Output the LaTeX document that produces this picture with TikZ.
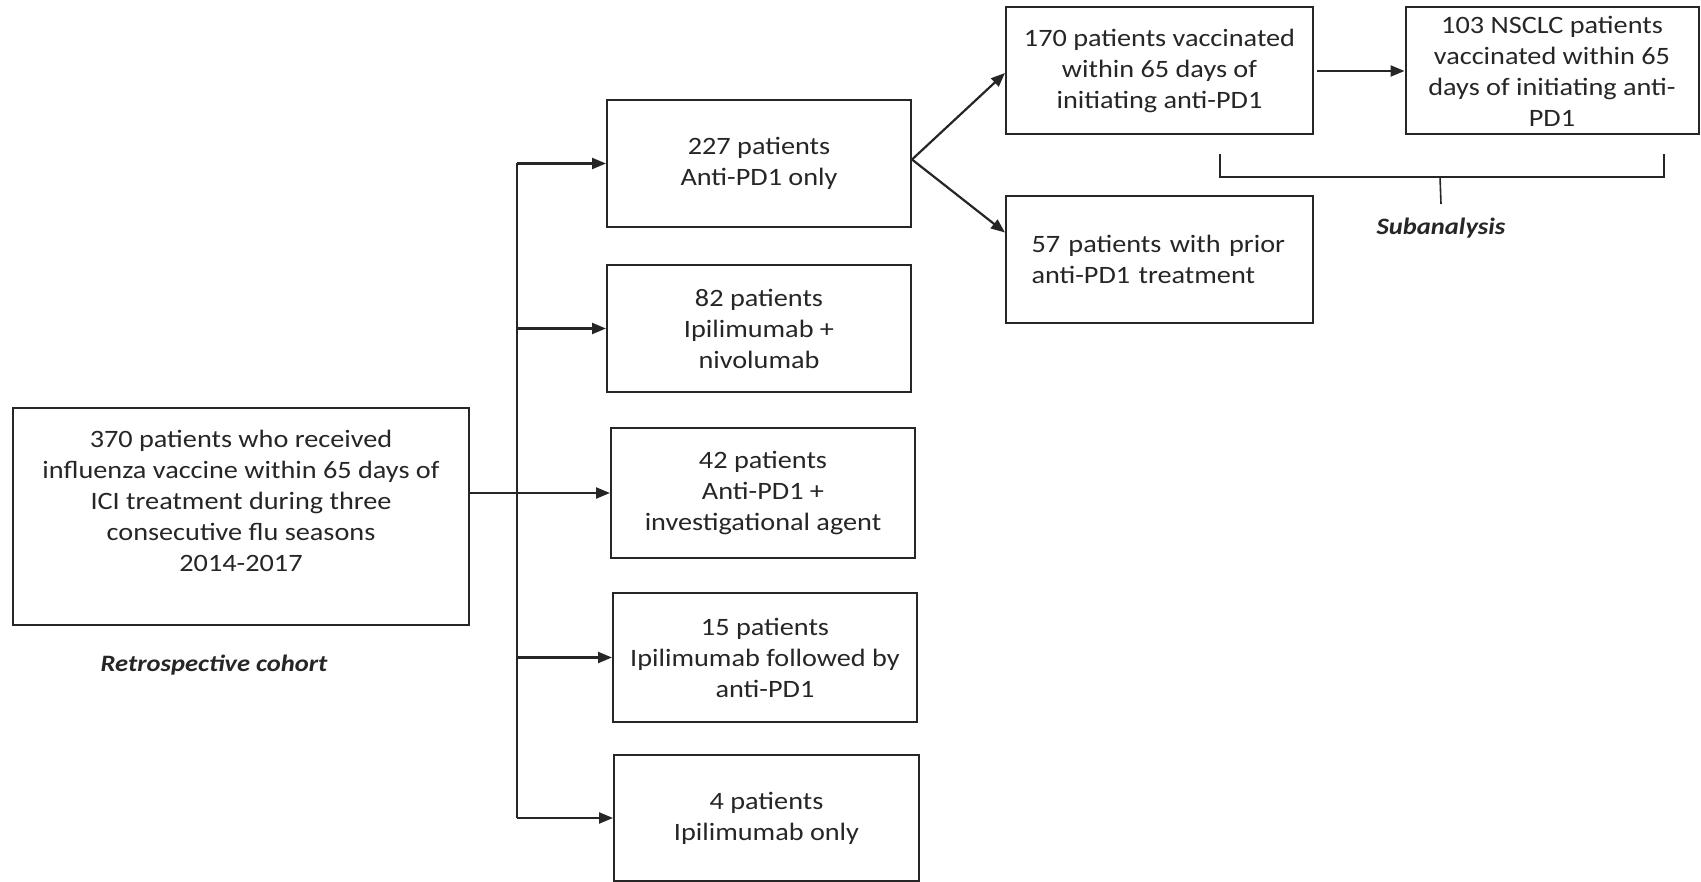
\documentclass[tikz,border=0pt]{standalone}
\usepackage{fontspec}
\setmainfont{Carlito}[FakeStretch=1.13]
\usetikzlibrary{arrows.meta,calc}
\definecolor{ink}{HTML}{262626}
\begin{document}
\begin{tikzpicture}[x=1pt,y=-1pt,
  box/.style={draw=ink,line width=2pt,text=ink,align=center,inner sep=2pt,
    font=\fontsize{25}{31}\selectfont},
  conn/.style={draw=ink,line width=2.2pt},
  arr/.style={conn,-{Triangle[length=14pt,width=11pt]}},
  lab/.style={text=ink,font=\fontsize{23.5}{28}\selectfont\bfseries\itshape}]
\useasboundingbox (0,0) rectangle (1701,882);
\fill[white] (0,0) rectangle (1701,882);
% left box
\node[box,minimum width=456pt,minimum height=217pt] (L) at (241,516.5)
  {370 patients who received\\influenza vaccine within 65 days of\\ICI treatment during three\\consecutive flu seasons\\2014-2017\\~};
\node[lab] (rc) at (214,665) {Retrospective cohort};
% middle column
\node[box,minimum width=304pt,minimum height=127pt] (A) at (759,163.5) {227 patients\\Anti-PD1 only};
\node[box,minimum width=304pt,minimum height=127pt] (B) at (759,328.5) {82 patients\\Ipilimumab +\\nivolumab};
\node[box,minimum width=304pt,minimum height=130pt] (C) at (763,493) {42 patients\\Anti-PD1 +\\investigational agent};
\node[box,minimum width=304pt,minimum height=129pt] (D) at (765,657.5) {15 patients\\Ipilimumab followed by\\anti-PD1};
\node[box,minimum width=305pt,minimum height=126pt] (E) at (766.5,818) {4 patients\\Ipilimumab only};
% right column
\node[box,minimum width=307pt,minimum height=127pt] (F) at (1159.5,71) {170 patients vaccinated\\within 65 days of\\initiating anti-PD1};
\node[box,minimum width=293pt,minimum height=127pt] (G) at (1552,71) {103 NSCLC patients\\vaccinated within 65\\days of initiating anti-\\PD1};
\node[box,minimum width=307pt,minimum height=127pt,text width=270pt,align=left] (H) at (1159.5,259.5) {\hspace*{7pt}57 patients with prior\\\hspace*{7pt}anti-PD1 treatment};
\node[lab] (sub) at (1441,228) {Subanalysis};
% trunk
\draw[conn] (517,0 |- A.west) coordinate (tt) -- (517,0 |- E.west) coordinate (tb);
\draw[conn] (L.east |- C.west) -- (tt |- C.west);
\draw[arr] (tt |- A.west) -- (A.west);
\draw[arr] (tt |- B.west) -- (B.west);
\draw[arr] (tt |- C.west) -- (C.west);
\draw[arr] (tt |- D.west) -- (D.west);
\draw[arr] (tt |- E.west) -- (E.west);
% branches
\draw[arr] ($(A.east)+(0,-4)$) -- ($(F.west)+(0,2)$);
\draw[arr] ($(A.east)+(0,-4)$) -- ($(H.west)+(0,-27)$);
\draw[arr,shorten <=3pt] (F.east) -- (G.west);
% bracket
\coordinate (b1) at (1220,154);
\coordinate (b2) at (1664,154);
\coordinate (bm) at (1440,177);
\draw[conn,line width=1.6pt] (b1) |- (bm) -| (b2);
\draw[conn,line width=1.6pt] (bm) -- (sub.north |- 0,204);
\end{tikzpicture}
\end{document}
